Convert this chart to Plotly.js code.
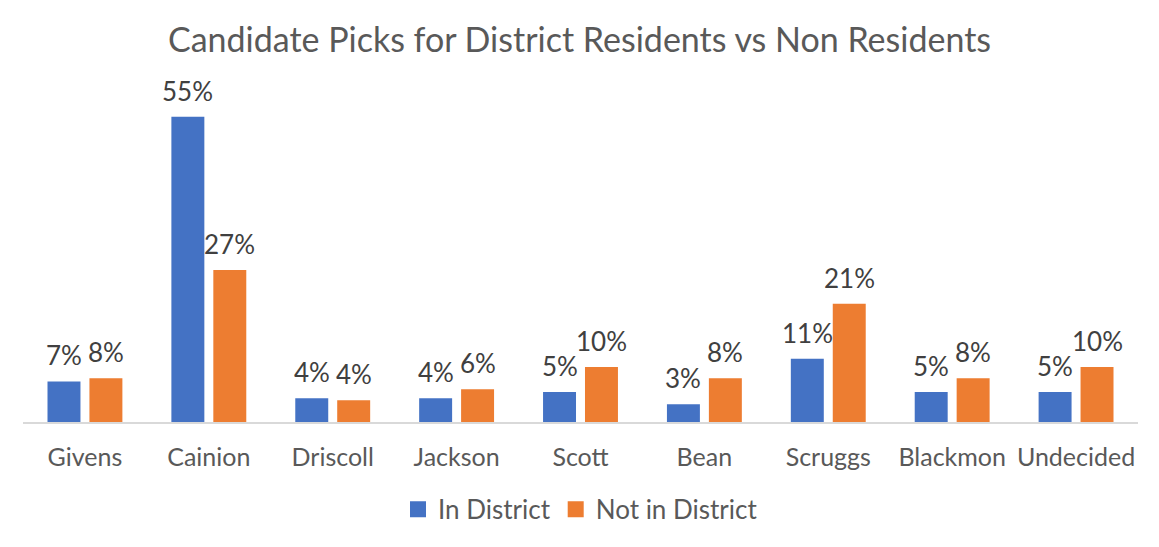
<!DOCTYPE html>
<html>
<head>
<meta charset="utf-8">
<script src="https://cdn.plot.ly/plotly-3.0.1.min.js"></script>
<style>html,body{margin:0;padding:0;background:#fff;}#chart{width:1159px;height:547px;}</style>
</head>
<body>
<div id="chart"></div>
<script>
const categories = ["Givens", "Cainion", "Driscoll", "Jackson", "Scott", "Bean", "Scruggs", "Blackmon", "Undecided"];
const inDistrict = [0.073, 0.55, 0.043, 0.043, 0.054, 0.032, 0.114, 0.054, 0.054];
const notInDistrict = [0.079, 0.274, 0.039, 0.059, 0.099, 0.079, 0.213, 0.079, 0.099];
const seriesNames = ["In District", "Not in District"];
const colors = ["#4472C4", "#ED7D31"];

const FONT = "Lato, 'Open Sans', sans-serif";

const traces = [inDistrict, notInDistrict].map((vals, i) => ({
  type: "bar",
  name: seriesNames[i],
  x: categories,
  y: vals,
  marker: {color: colors[i]},
  showlegend: false,
  hoverinfo: "skip"
}));
// legend entries with larger square swatches (no marks drawn)
seriesNames.forEach((nm, i) => {
  traces.push({
    type: "scatter", mode: "markers", name: nm,
    x: [null], y: [null],
    marker: {symbol: "square", size: 16, color: colors[i]},
    showlegend: true, hoverinfo: "skip"
  });
});

const annotations = [];
[inDistrict, notInDistrict].forEach((vals, i) => {
  vals.forEach((v, j) => {
    annotations.push({
      x: categories[j], y: v, xref: "x", yref: "y",
      text: Math.round(v * 100) + "%",
      showarrow: false,
      xanchor: "center", yanchor: "bottom",
      xshift: i === 0 ? -21 : 21,
      yshift: 8,
      font: {family: FONT, size: 26, color: "#404040"}
    });
  });
});

const layout = {
  width: 1159, height: 547,
  paper_bgcolor: "#ffffff", plot_bgcolor: "#ffffff",
  margin: {l: 22.5, r: 20.5, t: 89, b: 124.5, pad: 0},
  title: {text: "Candidate Picks for District Residents vs Non Residents",
          font: {family: FONT, size: 34, color: "#595959"},
          x: 0.5, xanchor: "center", y: 0.927, yanchor: "middle"},
  barmode: "group",
  bargap: 0.323,
  bargroupgap: 0.214,
  showlegend: true,
  legend: {orientation: "h", x: 0.5, xanchor: "center", y: -0.262, yanchor: "middle",
           font: {family: FONT, size: 26, color: "#595959"}, itemwidth: 30, traceorder: "normal"},
  xaxis: {type: "category", showline: true, linecolor: "#d9d9d9", linewidth: 1.5,
          ticks: "", showgrid: false, zeroline: false,
          tickfont: {family: FONT, size: 25, color: "#595959"}, ticklabelstandoff: 12},
  yaxis: {range: [0, 0.6], visible: false, showgrid: false, zeroline: false},
  annotations: annotations,
  font: {family: FONT}
};

Plotly.newPlot("chart", traces, layout, {staticPlot: true, displayModeBar: false});
</script>
</body>
</html>
